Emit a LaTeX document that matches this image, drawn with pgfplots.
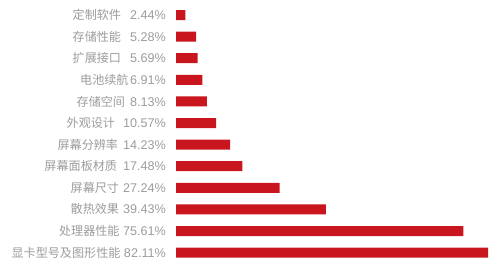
\documentclass[border=0pt]{standalone}
\usepackage{pgfplots}
\pgfplotsset{compat=1.18}
\usepackage{fontspec}
\setmainfont{Liberation Sans}
\newfontfamily\cjk{Noto Sans CJK SC}
\definecolor{barred}{HTML}{C9151E}
\definecolor{labelgray}{HTML}{9C9C9C}
% category name, gap, percentage
\newcommand{\lab}[3]{{\cjk\fontsize{12.1}{13}\selectfont #1}\hspace{#2pt}#3\%}

\begin{document}
\begin{tikzpicture}[x=1pt,y=1pt]
\path[use as bounding box] (0,0) rectangle (500,271);
\begin{axis}[
  at={(176pt,7.6pt)}, anchor=south west,
  scale only axis, width=312pt, height=259.2pt,
  xmin=0, xmax=82.11, ymin=-0.5, ymax=11.5, y dir=reverse,
  xbar, bar width=10pt, bar shift=0pt,
  hide x axis,
  axis y line*=left, y axis line style={draw=none},
  major tick length=0pt,
  ytick={0,...,11},
  yticklabels={
    \lab{定制软件}{9}{2.44},
    \lab{存储性能}{9}{5.28},
    \lab{扩展接口}{9}{5.69},
    \lab{电池续航}{1.5}{6.91},
    \lab{存储空间}{5}{8.13},
    \lab{外观设计}{8}{10.57},
    \lab{屏幕分辨率}{5}{14.23},
    \lab{屏幕面板材质}{6}{17.48},
    \lab{屏幕尺寸}{4}{27.24},
    \lab{散热效果}{4}{39.43},
    \lab{处理器性能}{3.5}{75.61},
    \lab{显卡型号及图形性能}{3.5}{82.11}
  },
  yticklabel style={anchor=east, inner sep=0pt, xshift=-10pt,
    text=labelgray, font=\fontsize{12.6}{13}\selectfont},
]
\addplot[fill=barred, draw=none] coordinates {
  (2.44,0) (5.28,1) (5.69,2) (6.91,3) (8.13,4) (10.57,5)
  (14.23,6) (17.48,7) (27.24,8) (39.43,9) (75.61,10) (82.11,11)
};
\end{axis}
\end{tikzpicture}
\end{document}
